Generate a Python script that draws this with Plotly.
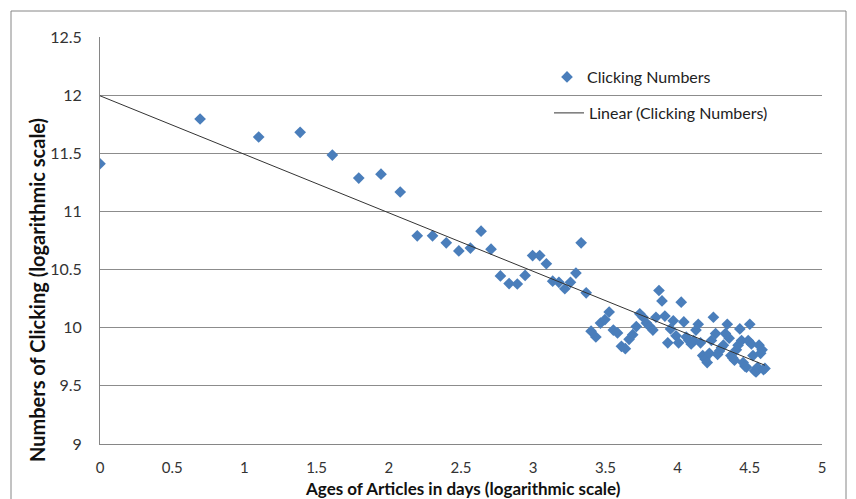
import numpy as np
import plotly.graph_objects as go

# Ages of articles in days (log scale) and clicking numbers (log scale)
age_log = [0, 0.693, 1.099, 1.386, 1.609, 1.792, 1.946, 2.079, 2.197, 2.303,
           2.398, 2.485, 2.565, 2.639, 2.708, 2.773, 2.833, 2.890, 2.944, 2.996,
           3.045, 3.091, 3.135, 3.178, 3.219, 3.258, 3.296, 3.332, 3.367, 3.401,
           3.434, 3.466, 3.497, 3.526, 3.555, 3.584, 3.611, 3.638, 3.664, 3.689,
           3.714, 3.738, 3.761, 3.784, 3.807, 3.829, 3.850, 3.871, 3.892, 3.912,
           3.932, 3.951, 3.970, 3.989, 4.007, 4.025, 4.043, 4.060, 4.078, 4.094,
           4.111, 4.127, 4.143, 4.159, 4.174, 4.190, 4.205, 4.220, 4.234, 4.248,
           4.263, 4.277, 4.290, 4.304, 4.317, 4.331, 4.344, 4.357, 4.369, 4.382,
           4.394, 4.407, 4.419, 4.431, 4.443, 4.454, 4.466, 4.477, 4.489, 4.500,
           4.511, 4.522, 4.533, 4.543, 4.554, 4.564, 4.575, 4.585, 4.595, 4.605]

clicks_log = [11.41, 11.795, 11.64, 11.68, 11.485, 11.287, 11.32, 11.167, 10.79, 10.79,
              10.73, 10.66, 10.685, 10.83, 10.675, 10.445, 10.38, 10.376, 10.45, 10.62,
              10.62, 10.55, 10.40, 10.39, 10.335, 10.39, 10.47, 10.73, 10.30, 9.97,
              9.92, 10.04, 10.07, 10.135, 9.98, 9.955, 9.84, 9.82, 9.90, 9.94,
              10.01, 10.12, 10.09, 10.04, 10.01, 9.98, 10.09, 10.32, 10.23, 10.10,
              9.87, 9.99, 10.06, 9.93, 9.87, 10.22, 10.05, 9.92, 9.89, 9.86,
              9.89, 9.98, 10.03, 9.87, 9.76, 9.73, 9.70, 9.78, 9.89, 10.09,
              9.95, 9.77, 9.80, 9.83, 9.85, 9.95, 10.03, 9.91, 9.76, 9.74,
              9.72, 9.81, 9.85, 9.99, 9.89, 9.70, 9.67, 9.66, 9.89, 10.03,
              9.86, 9.76, 9.63, 9.62, 9.66, 9.85, 9.78, 9.81, 9.64, 9.65]

x_ticks = [0, 0.5, 1, 1.5, 2, 2.5, 3, 3.5, 4, 4.5, 5]
y_ticks = [9, 9.5, 10, 10.5, 11, 11.5, 12, 12.5]

slope, intercept = np.polyfit(age_log, clicks_log, 1)
trend_x = [min(age_log), max(age_log)]
trend_y = [intercept + slope * v for v in trend_x]

FONT = "Lato"
OFF = 8  # browser body margin
W, H = 856 - OFF, 499 - OFF
# plot area in page pixels
PX_L, PX_R, PX_T, PX_B = 100, 822, 37, 444
L, R, T, B = PX_L - OFF, PX_R - OFF, PX_T - OFF, PX_B - OFF

def px2x(p):
    return (p - PX_L) / (PX_R - PX_L)

def py2y(p):
    return (PX_B - p) / (PX_B - PX_T)

fig = go.Figure()
fig.add_trace(go.Scatter(
    x=age_log, y=clicks_log, mode="markers", name="Clicking Numbers",
    marker=dict(symbol="diamond", size=9, color="#4A7EBB"),
    legend="legend"))
fig.add_trace(go.Scatter(
    x=trend_x, y=trend_y, mode="lines", name="Linear (Clicking Numbers)",
    line=dict(color="#333333", width=1), legend="legend2"))

fig.update_layout(
    width=W, height=H,
    margin=dict(l=L, r=W - R, t=T, b=H - B, pad=0),
    paper_bgcolor="white", plot_bgcolor="white",
    font=dict(family=FONT, size=15, color="#333333"),
    showlegend=True,
    legend=dict(x=px2x(547), y=py2y(60), xanchor="left", yanchor="top",
                bgcolor="rgba(0,0,0,0)", font=dict(size=16, family=FONT, color="#222"),
                itemwidth=30),
    legend2=dict(x=px2x(549), y=py2y(96), xanchor="left", yanchor="top",
                 bgcolor="rgba(0,0,0,0)", font=dict(size=16, family=FONT, color="#222"),
                 itemwidth=30),
    xaxis=dict(range=[0, 5], tickvals=x_ticks, showgrid=False, zeroline=False,
               showline=True, linecolor="#868686", linewidth=1,
               ticks="", ticklabelstandoff=10, tickfont=dict(size=15, color="#333")),
    yaxis=dict(range=[9, 12.5], tickvals=y_ticks, showgrid=True, gridcolor="#8c8c8c",
               gridwidth=1, zeroline=False, showline=True, linecolor="#868686",
               linewidth=1, ticks="", ticklabelstandoff=14,
               tickfont=dict(size=16, color="#333")),
    annotations=[
        dict(text="<b>Ages of Articles in days (logarithmic scale)</b>",
             xref="paper", yref="paper", x=px2x(463), y=py2y(488),
             xanchor="center", yanchor="middle", showarrow=False,
             font=dict(size=17, family=FONT, color="#111")),
        dict(text="<b>Numbers of Clicking (logarithmic scale)</b>",
             xref="paper", yref="paper", x=px2x(37), y=py2y(290),
             xanchor="center", yanchor="middle", showarrow=False, textangle=-90,
             font=dict(size=20, family=FONT, color="#111")),
    ],
    shapes=[dict(type="rect", xref="paper", yref="paper",
                 x0=px2x(11), x1=px2x(846), y0=py2y(530), y1=py2y(11),
                 line=dict(color="#868686", width=1), fillcolor="rgba(0,0,0,0)",
                 layer="below")],
)

fig.write_html("out.html")
